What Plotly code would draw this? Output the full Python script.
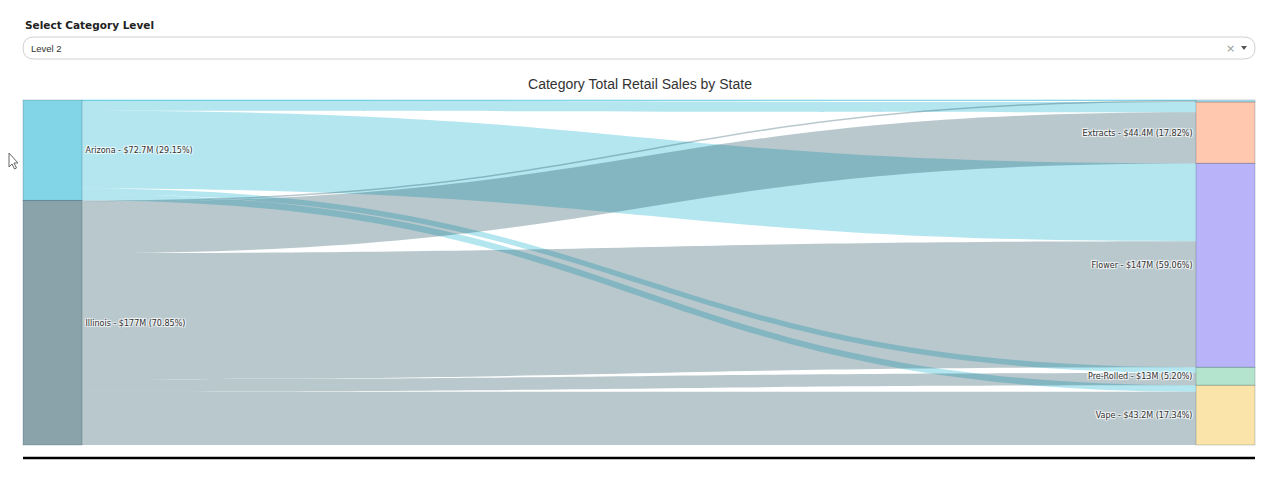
import plotly.graph_objects as go

# ---------------- data ----------------
node_names = ["Arizona", "Illinois", "", "Extracts", "Flower", "Pre-Rolled", "Vape"]
node_value_text = ["$72.7M", "$177M", "$1.5M", "$44.4M", "$147M", "$13M", "$43.2M"]
node_pct = ["29.15%", "70.85%", "0.58%", "17.82%", "59.06%", "5.20%", "17.34%"]

link_source = [0, 0, 0, 0, 0, 1, 1, 1, 1, 1]
link_target = [2, 3, 4, 5, 6, 2, 3, 4, 5, 6]
link_value = [0.4, 7.4, 56.3, 4.0, 4.6, 1.1, 37.0, 91.3, 9.0, 38.6]

dropdown_title = "Select Category Level"
dropdown_value = "Level 2"
chart_title = "Category Total Retail Sales by State"

# ---------------- styles ----------------
node_base = [(5, 172, 205), (22, 72, 88), (5, 172, 205), (255, 145, 95),
             (115, 105, 245), (105, 201, 155), (245, 201, 85)]
node_alpha = [0.5, 0.5, 0.3, 0.5, 0.5, 0.5, 0.5]
node_colors = [f"rgba({r},{g},{b},{a})" for (r, g, b), a in zip(node_base, node_alpha)]
link_colors = [f"rgba({node_base[s][0]},{node_base[s][1]},{node_base[s][2]},0.3)" for s in link_source]

labels = [f"{n} - {v} ({p})" if n else "" for n, v, p in zip(node_names, node_value_text, node_pct)]

# page has an 8px body margin; map reference pixels to figure paper coords
OFF = 8
W, H = 1280 - 2 * OFF, 480 - 2 * OFF
def px(x):
    return (x - OFF) / W
def py(y):
    return 1 - (y - OFF) / H

# sankey box in reference pixels
SX0, SX1, SY0, SY1 = 23, 1255, 100, 445
THICK = 59
dom_w = SX1 - SX0

# fixed node placement: keep input order within each column
n_nodes = len(node_names)
node_total = [0.0] * n_nodes
for s, t, v in zip(link_source, link_target, link_value):
    node_total[t] += v
for i in range(n_nodes):
    if i in link_source:
        node_total[i] = sum(v for s, v in zip(link_source, link_value) if s == i)
column = [0 if i in link_source else 1 for i in range(n_nodes)]
col_sum = {c: sum(node_total[i] for i in range(n_nodes) if column[i] == c) for c in (0, 1)}
node_x, node_y = [], []
cum = {0: 0.0, 1: 0.0}
for i in range(n_nodes):
    c = column[i]
    node_y.append((cum[c] + node_total[i] / 2) / col_sum[c])
    cum[c] += node_total[i]
    node_x.append((THICK / 2) / dom_w if c == 0 else 1 - (THICK / 2) / dom_w)

fig = go.Figure(go.Sankey(
    domain=dict(x=[px(SX0), px(SX1)], y=[py(SY1), py(SY0)]),
    arrangement="fixed",
    node=dict(
        label=labels,
        pad=0,
        thickness=THICK,
        color=node_colors,
        line=dict(color="rgba(0,40,60,0.2)", width=1),
        x=node_x,
        y=node_y,
    ),
    link=dict(source=link_source, target=link_target, value=link_value, color=link_colors),
    textfont=dict(family="DejaVu Sans", size=8, color="#333"),
))

shapes = []
# dropdown pill
x0, x1, y0, y1, r = 23, 1255, 37, 59, 11
path = (f"M {px(x0+r)},{py(y0)} L {px(x1-r)},{py(y0)} Q {px(x1)},{py(y0)} {px(x1)},{py((y0+y1)/2)} "
        f"Q {px(x1)},{py(y1)} {px(x1-r)},{py(y1)} L {px(x0+r)},{py(y1)} "
        f"Q {px(x0)},{py(y1)} {px(x0)},{py((y0+y1)/2)} Q {px(x0)},{py(y0)} {px(x0+r)},{py(y0)} Z")
shapes.append(dict(type="path", xref="paper", yref="paper", path=path,
                   line=dict(color="#d0d0d0", width=1), fillcolor="white", layer="below"))
# dropdown caret
shapes.append(dict(type="path", xref="paper", yref="paper",
                   path=f"M {px(1241)},{py(46)} L {px(1247)},{py(46)} L {px(1244)},{py(50)} Z",
                   line=dict(width=0), fillcolor="#555555"))
# bottom black rule
shapes.append(dict(type="line", xref="paper", yref="paper",
                   x0=px(23), x1=px(1255), y0=py(458), y1=py(458),
                   line=dict(color="black", width=2.5)))
# mouse cursor
cursor = (f"M {px(9)},{py(153)} L {px(9)},{py(167)} L {px(12)},{py(164)} L {px(14.5)},{py(169)} "
          f"L {px(16.5)},{py(168)} L {px(14)},{py(163)} L {px(18)},{py(163)} Z")
shapes.append(dict(type="path", xref="paper", yref="paper", path=cursor,
                   line=dict(color="#666666", width=1), fillcolor="white"))

annotations = [
    dict(text=f"<b>{dropdown_title}</b>", x=px(23), y=py(25), xref="paper", yref="paper",
         xanchor="left", yanchor="middle", showarrow=False,
         font=dict(family="DejaVu Sans", size=10.5, color="#222")),
    dict(text=dropdown_value, x=px(29), y=py(48), xref="paper", yref="paper",
         xanchor="left", yanchor="middle", showarrow=False,
         font=dict(family="Liberation Sans", size=9.5, color="#333")),
    dict(text="×", x=px(1230), y=py(48), xref="paper", yref="paper",
         xanchor="center", yanchor="middle", showarrow=False,
         font=dict(family="DejaVu Sans", size=11, color="#999")),
]

fig.update_layout(
    width=W, height=H,
    margin=dict(l=0, r=0, t=0, b=0),
    paper_bgcolor="white",
    title=dict(text=chart_title, x=0.5, xanchor="center", y=py(84), yanchor="middle",
               font=dict(family="Liberation Sans", size=14, color="#333")),
    shapes=shapes,
    annotations=annotations,
)

fig.write_html("out.html")
